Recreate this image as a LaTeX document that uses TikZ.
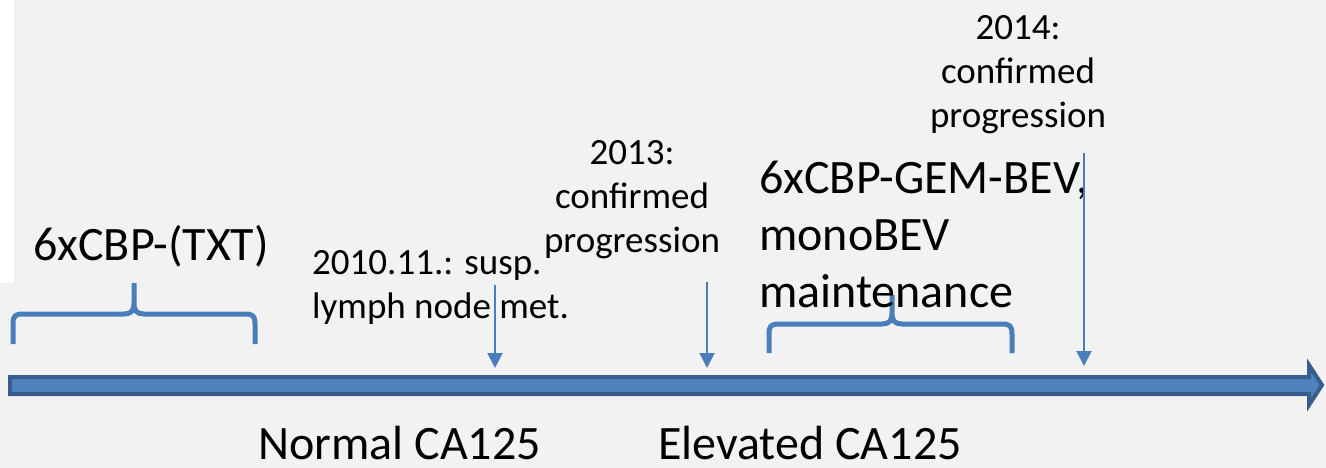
\documentclass[tikz,border=0pt]{standalone}
\usepackage{fontspec}
\setmainfont{Carlito}
\usetikzlibrary{arrows.meta}
\definecolor{bggray}{HTML}{F2F2F2}
\definecolor{bracecol}{HTML}{4A7EBB}
\definecolor{barfill}{HTML}{4F81BD}
\definecolor{barline}{HTML}{385D8A}
\begin{document}
\begin{tikzpicture}[x=1pt,y=-1pt,
    bigtxt/.style={inner sep=0pt, font=\fontsize{48}{57}\selectfont},
    smalltxt/.style={inner sep=0pt, font=\fontsize{37}{44}\selectfont},
    bracepath/.style={draw=bracecol, line width=5pt, line join=round},
    downarrow/.style={draw=bracecol, line width=2pt, -{Triangle[width=15pt,length=15pt]}}]
    \fill [bggray] (0,0) rectangle (1326,468);
    \fill [white] (0,0) rectangle (14,283);
    \useasboundingbox (0,0) rectangle (1326,468);
    % timeline
    \filldraw [fill=barfill, draw=barline, line width=4pt] (10,377) -- (1309,377) -- (1309,365) -- (1322,385) -- (1309,405) -- (1309,394) -- (10,394) -- cycle;
    % braces
    \draw [bracepath] (13,344) -- (13,324) .. controls (13,316) and (15,314) .. (23,314) -- (124,314) .. controls (131,314) and (134,311) .. (134,303) -- (134,283)
        (255,344) -- (255,324) .. controls (255,316) and (253,314) .. (245,314) -- (144,314) .. controls (137,314) and (134,311) .. (134,303);
    \draw [bracepath] (769,353) -- (769,334) .. controls (769,326) and (771,324) .. (779,324) -- (882,324) .. controls (889,324) and (892,321) .. (892,313) -- (892,295)
        (1012,353) -- (1012,334) .. controls (1012,326) and (1010,324) .. (1002,324) -- (902,324) .. controls (895,324) and (892,321) .. (892,313);
    % labels (base = last line)
    \node [bigtxt, anchor=base west] (txtLbl) at (33,260) {6xCBP-(TXT)};
    \node [bigtxt, anchor=base west, align=left] (gemLbl) at (759,307) {6xCBP-GEM-BEV,\\monoBEV\\maintenance};
    \node [smalltxt, anchor=base west, align=left] (lymphLbl) at (312,318) {2010.11.: susp.\\lymph node met.};
    \node [smalltxt, anchor=base, align=center] (prog13Lbl) at (632,252) {2013:\\confirmed\\progression};
    \node [smalltxt, anchor=base, align=center] (prog14Lbl) at (1018,128) {2014:\\confirmed\\progression};
    \node [bigtxt, anchor=base west] (normalLbl) at (258,459) {Normal CA125};
    \node [bigtxt, anchor=base west] (elevLbl) at (658,459) {Elevated CA125};
    % event arrows
    \coordinate (lymphTop) at (495,285);
    \coordinate (lymphEnd) at (495,368);
    \coordinate (prog13Top) at (707,282);
    \coordinate (prog13End) at (707,368);
    \coordinate (prog14Top) at (1084,153);
    \coordinate (prog14End) at (1084,366);
    \draw [downarrow] (lymphTop) -- (lymphEnd);
    \draw [downarrow] (prog13Top) -- (prog13End);
    \draw [downarrow] (prog14Top) -- (prog14End);
\end{tikzpicture}
\end{document}
